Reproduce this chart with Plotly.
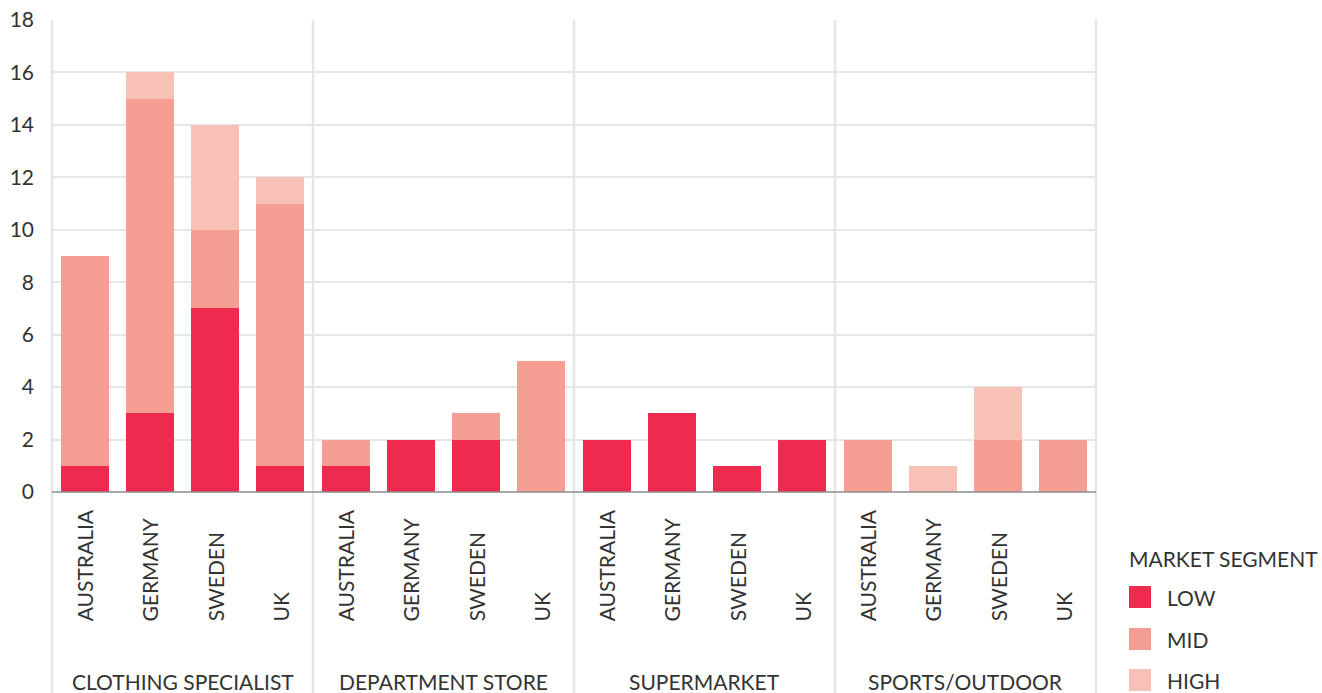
import plotly.graph_objects as go
from plotly.subplots import make_subplots

channels = ["CLOTHING SPECIALIST", "DEPARTMENT STORE", "SUPERMARKET", "SPORTS/OUTDOOR"]
countries = ["AUSTRALIA", "GERMANY", "SWEDEN", "UK"]
segments = ["LOW", "MID", "HIGH"]

# values per channel, in country order
low_values = {
    "CLOTHING SPECIALIST": [1, 3, 7, 1],
    "DEPARTMENT STORE": [1, 2, 2, 0],
    "SUPERMARKET": [2, 3, 1, 2],
    "SPORTS/OUTDOOR": [0, 0, 0, 0],
}
mid_values = {
    "CLOTHING SPECIALIST": [8, 12, 3, 10],
    "DEPARTMENT STORE": [1, 0, 1, 5],
    "SUPERMARKET": [0, 0, 0, 0],
    "SPORTS/OUTDOOR": [2, 0, 2, 2],
}
high_values = {
    "CLOTHING SPECIALIST": [0, 1, 4, 1],
    "DEPARTMENT STORE": [0, 0, 0, 0],
    "SUPERMARKET": [0, 0, 0, 0],
    "SPORTS/OUTDOOR": [0, 1, 2, 0],
}
y_ticks = [0, 2, 4, 6, 8, 10, 12, 14, 16, 18]

colors = {"LOW": "#EE2B4E", "MID": "#F59E94", "HIGH": "#F8C1B8"}
series = {"LOW": low_values, "MID": mid_values, "HIGH": high_values}

FONT = "Lato, 'Open Sans', sans-serif"
TXT = "#333333"
GRID = "#E6E6E6"
FS = 21

fig = make_subplots(rows=1, cols=4, shared_yaxes=True, horizontal_spacing=0)

for i, ch in enumerate(channels):
    for seg in segments:
        fig.add_trace(
            go.Bar(
                x=countries,
                y=series[seg][ch],
                name=seg,
                marker=dict(color=colors[seg], line=dict(width=0)),
                showlegend=False,
                hoverinfo="x+y+name",
            ),
            row=1, col=i + 1,
        )

fig.update_layout(
    barmode="stack",
    bargap=0.265,
    width=1322,
    height=693,
    margin=dict(l=52, r=226, t=20, b=201, autoexpand=False),
    plot_bgcolor="white",
    paper_bgcolor="white",
    font=dict(family=FONT, size=FS, color=TXT),
)

for i in range(4):
    fig.update_xaxes(
        type="category",
        categoryorder="array",
        categoryarray=countries,
        showticklabels=False,
        showgrid=False,
        zeroline=False,
        showline=False,
        fixedrange=True,
        automargin=False,
        row=1, col=i + 1,
    )
    fig.update_yaxes(
        range=[0, 18],
        tickvals=y_ticks,
        showgrid=True,
        gridcolor=GRID,
        gridwidth=2,
        zeroline=False,
        showline=False,
        automargin=False,
        row=1, col=i + 1,
    )
fig.update_yaxes(
    tickfont=dict(family=FONT, size=FS, color=TXT),
    ticklabelstandoff=17,
    row=1, col=1,
)

shapes = []
# vertical separators extending through the label area
for xp in [0, 0.25, 0.5, 0.75, 1.0]:
    shapes.append(dict(type="line", xref="paper", yref="paper", x0=xp, x1=xp,
                       y0=-0.43, y1=1.0, line=dict(color=GRID, width=2.5), layer="below"))
# baseline
shapes.append(dict(type="line", xref="paper", yref="paper", x0=0, x1=1, y0=0, y1=0,
                   line=dict(color="#8c8c8c", width=1.3), layer="above"))

annotations = []
for i, ch in enumerate(channels):
    xa = "x" if i == 0 else f"x{i + 1}"
    for c in countries:
        annotations.append(dict(
            x=c, xref=xa, y=-0.279, yref="paper", text=c, showarrow=False,
            textangle=-90, xanchor="center", yanchor="bottom",
            font=dict(family=FONT, size=FS, color=TXT),
        ))
    annotations.append(dict(
        x=0.5, xref=f"{xa} domain", y=-0.4025, yref="paper", text=ch,
        showarrow=False, xanchor="center", yanchor="middle",
        font=dict(family=FONT, size=FS, color=TXT),
    ))

# legend drawn manually
W = 1044.0
H = 472.0
def px_x(p):
    return (p - 52) / W
def px_y(p):
    return (492 - p) / H

annotations.append(dict(
    x=px_x(1127), xref="paper", y=px_y(558), yref="paper", text="MARKET SEGMENT",
    showarrow=False, xanchor="left", yanchor="middle",
    font=dict(family=FONT, size=FS, color=TXT),
))
for seg, cy in zip(segments, [597, 639, 680]):
    shapes.append(dict(type="rect", xref="paper", yref="paper",
                       x0=px_x(1129), x1=px_x(1151), y0=px_y(cy - 11), y1=px_y(cy + 11),
                       fillcolor=colors[seg], line=dict(width=0)))
    annotations.append(dict(
        x=px_x(1165), xref="paper", y=px_y(cy), yref="paper", text=seg,
        showarrow=False, xanchor="left", yanchor="middle",
        font=dict(family=FONT, size=FS, color=TXT),
    ))

fig.update_layout(shapes=shapes, annotations=annotations)

fig.write_html(
    "out.html",
    config={"displayModeBar": False},
    post_script="document.body.style.margin='0px';document.body.style.overflow='hidden';",
)
